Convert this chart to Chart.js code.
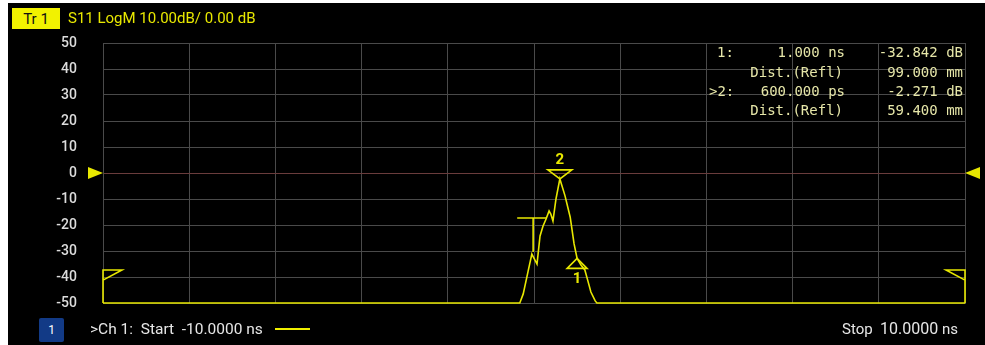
<!DOCTYPE html>
<html>
<head>
<meta charset="utf-8">
<script src="https://cdn.jsdelivr.net/npm/chart.js@4/dist/chart.umd.min.js"></script>
<style>
  body { margin: 0; background: #fff; width: 985px; height: 345px; overflow: hidden; position: relative; font-family: Roboto, sans-serif; }
  #panel { position: absolute; left: 8px; top: 3px; right: 0; bottom: 0; background: #000; }
  #wrap { position: absolute; left: 0; top: 0; width: 985px; height: 345px; }
  .txt { position: absolute; white-space: pre; line-height: 1; }
  #trBox { left: 12px; top: 8px; width: 48px; height: 21px; background: #f2f200; color: #111; font-size: 15px; text-align: center; line-height: 22px; }
  #trTitle { left: 68px; top: 11px; color: #e8e800; font-size: 15px; }
  .mk { font-family: "DejaVu Sans Mono", monospace; font-size: 14px; color: #e6e6a8; }
  #chBox { left: 39px; top: 318px; width: 25px; height: 24px; background: #123a86; color: #fff; font-size: 12px; text-align: center; line-height: 24px; border-radius: 2px; }
  #chText { left: 90px; top: 322px; color: #e6e6e6; font-size: 15.5px; }
  #chLine { position: absolute; left: 275px; top: 328px; width: 35px; height: 2px; background: #f0f000; }
  #stop { right: 27px; top: 321px; color: #e6e6e6; font-size: 15px; }
  #stop b { font-weight: 400; font-size: 16px; }
</style>
</head>
<body>
<div id="panel"></div>
<div id="wrap"><canvas id="c" width="985" height="345"></canvas></div>

<div class="txt" id="trBox">Tr 1</div>
<div class="txt" id="trTitle">S11 LogM 10.00dB/ 0.00 dB</div>

<div class="txt mk" style="left:717px; top:45px;">1:</div>
<div class="txt mk" style="right:140px; top:45px;">1.000 ns</div>
<div class="txt mk" style="right:22px; top:45px;">-32.842 dB</div>
<div class="txt mk" style="right:142px; top:65px;">Dist.(Refl)</div>
<div class="txt mk" style="right:22px; top:65px;">99.000 mm</div>
<div class="txt mk" style="left:709px; top:84px;">&gt;2:</div>
<div class="txt mk" style="right:140px; top:84px;">600.000 ps</div>
<div class="txt mk" style="right:22px; top:84px;">-2.271 dB</div>
<div class="txt mk" style="right:142px; top:103px;">Dist.(Refl)</div>
<div class="txt mk" style="right:22px; top:103px;">59.400 mm</div>

<div class="txt" id="chBox">1</div>
<div class="txt" id="chText">&gt;Ch 1:  Start  -10.0000 ns</div>
<div id="chLine"></div>
<div class="txt" id="stop">Stop  <b>10.0000</b> ns</div>

<script>
// time axis in ns, amplitude in dB
const xMin = -10, xMax = 10, xStep = 2;
const yMin = -50, yMax = 50, yStep = 10;

const traceTime = [-10, -0.33, -0.25, -0.14, -0.05, 0.07, 0.14, 0.21, 0.28, 0.35, 0.39, 0.44, 0.51, 0.60,
  0.72, 0.84, 0.93, 1.0, 1.09, 1.18, 1.25, 1.32, 1.42, 1.46, 10];
const traceDb = [-50, -50, -46.5, -38, -31.2, -35, -24.2, -20.4, -17.7, -14.6, -15.8, -18.5, -10, -2.271,
  -8.8, -17, -27.3, -32.842, -35.4, -37.3, -41.5, -45.8, -49.2, -50, -50];

// gate flags at the sweep edges
const gateLeftTime = [-10, -10, -9.56, -10];
const gateRightTime = [10, 10, 9.56, 10];
const gateDb = [-50, -37.3, -37.3, -41.2];

// T shaped marker left of the peak
const tTime = [-0.39, 0.30, null, -0.02, -0.02];
const tDb = [-17.3, -17.3, null, -17.3, -30.4];

const markerNames = ['1', '2'];
const markerTime = [1.0, 0.6];
const markerDb = [-32.842, -2.271];

const YELLOW = '#e8e800';

function pts(xs, ys) {
  return xs.map((x, i) => (x === null ? { x: NaN, y: NaN } : { x: x, y: ys[i] }));
}

const markerPlugin = {
  id: 'markers',
  afterDatasetsDraw(chart) {
    const ctx = chart.ctx;
    const xs = chart.scales.x, ys = chart.scales.y;
    const area = chart.chartArea;
    ctx.save();
    ctx.strokeStyle = YELLOW;
    ctx.fillStyle = YELLOW;
    ctx.lineWidth = 1.6;
    ctx.font = 'bold 15px Roboto';
    ctx.textAlign = 'center';
    ctx.textBaseline = 'middle';
    markerNames.forEach((name, i) => {
      const px = xs.getPixelForValue(markerTime[i]);
      const py = ys.getPixelForValue(markerDb[i]);
      ctx.beginPath();
      if (name === '2') {
        ctx.moveTo(px, py);
        ctx.lineTo(px - 12, py - 9);
        ctx.lineTo(px + 12, py - 9);
        ctx.closePath();
        ctx.stroke();
        ctx.fillText(name, px, py - 19);
      } else {
        ctx.moveTo(px, py);
        ctx.lineTo(px - 10, py + 10);
        ctx.lineTo(px + 10, py + 10);
        ctx.closePath();
        ctx.stroke();
        ctx.fillText(name, px, py + 21);
      }
    });
    // reference level arrows
    const ry = ys.getPixelForValue(0);
    ctx.beginPath();
    ctx.moveTo(area.left, ry);
    ctx.lineTo(area.left - 15, ry - 6);
    ctx.lineTo(area.left - 15, ry + 6);
    ctx.closePath();
    ctx.fill();
    ctx.beginPath();
    ctx.moveTo(area.right, ry);
    ctx.lineTo(area.right + 15, ry - 6);
    ctx.lineTo(area.right + 15, ry + 6);
    ctx.closePath();
    ctx.fill();
    ctx.restore();
  }
};

const lineSet = (data) => ({
  data: data,
  showLine: true,
  borderColor: YELLOW,
  borderWidth: 1.6,
  pointRadius: 0,
  tension: 0,
  spanGaps: false,
  clip: 4
});

new Chart(document.getElementById('c'), {
  type: 'scatter',
  data: {
    datasets: [
      lineSet(pts(traceTime, traceDb)),
      lineSet(pts(gateLeftTime, gateDb)),
      lineSet(pts(gateRightTime, gateDb)),
      lineSet(pts(tTime, tDb))
    ]
  },
  options: {
    responsive: false,
    animation: false,
    layout: { padding: { top: 43, right: 20, left: 0, bottom: 0 } },
    plugins: { legend: { display: false }, tooltip: { enabled: false } },
    scales: {
      x: {
        type: 'linear',
        min: xMin, max: xMax,
        afterFit: (s) => { s.height = 42; },
        ticks: { display: false, stepSize: xStep },
        grid: { color: '#4a4a4a', drawTicks: false, lineWidth: 1 },
        border: { color: '#4a4a4a' }
      },
      y: {
        min: yMin, max: yMax,
        afterFit: (s) => { s.width = 103; },
        ticks: {
          stepSize: yStep,
          padding: 26,
          color: '#dcdcdc',
          font: { family: 'Roboto', size: 14, weight: '500' }
        },
        grid: {
          color: (c) => (c.tick && c.tick.value === 0 ? '#6a3c3c' : '#4a4a4a'),
          drawTicks: false,
          lineWidth: 1
        },
        border: { color: '#4a4a4a' }
      }
    }
  },
  plugins: [markerPlugin]
});
</script>
</body>
</html>
